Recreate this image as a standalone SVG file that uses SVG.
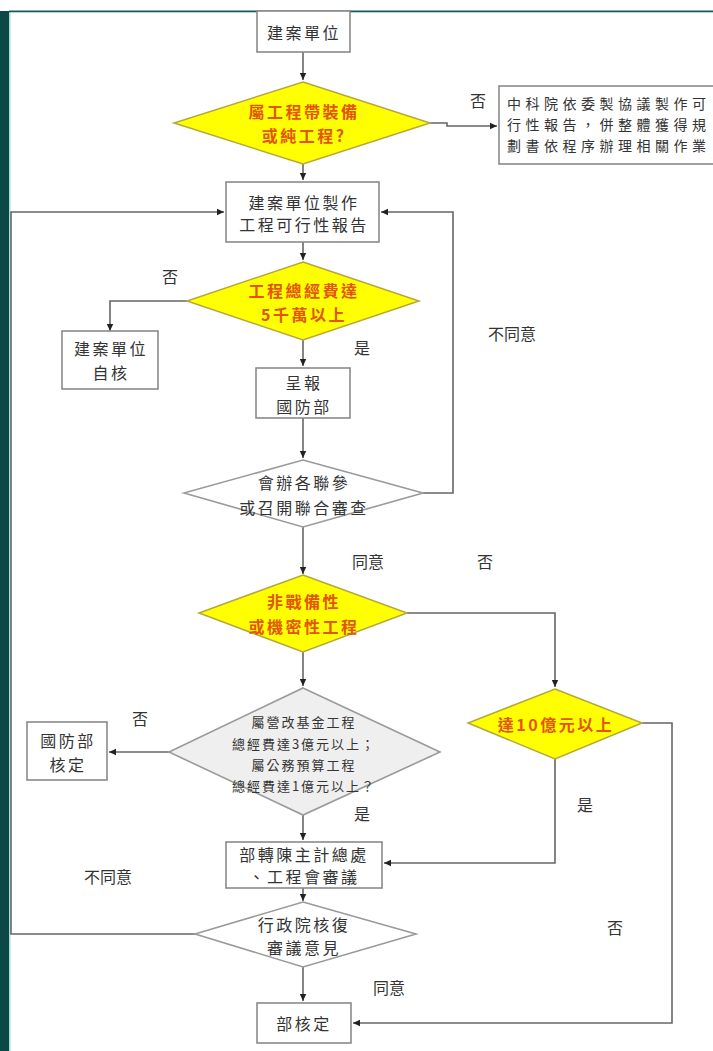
<svg xmlns="http://www.w3.org/2000/svg" width="713" height="1051" viewBox="0 0 713 1051">
<defs>
<marker id="ah" markerWidth="8" markerHeight="8" refX="7" refY="4" orient="auto" markerUnits="userSpaceOnUse">
<path d="M0,0.8 L7,4 L0,7.2 Z" fill="#222"/>
</marker>
<style>
.box{fill:#fff;stroke:#8a8a8a;stroke-width:1.6}
.yd{fill:#ffff00;stroke:#b5a83a;stroke-width:1.5}
.gd{fill:#fff;stroke:#9a9a9a;stroke-width:1.6}
.gd2{fill:#efefef;stroke:#9a9a9a;stroke-width:1.6}
.t{font-family:"Noto Sans CJK TC","Liberation Serif",serif;font-size:16px;fill:#333;letter-spacing:2.5px;text-anchor:middle;dominant-baseline:central}
.tb{font-family:"Noto Sans CJK TC","Liberation Serif",serif;font-size:14px;fill:#333;letter-spacing:4.5px;text-anchor:start;dominant-baseline:central}
.ty{font-family:"Noto Sans CJK TC","Liberation Serif",serif;font-size:16px;fill:#e4540c;font-weight:bold;letter-spacing:2.5px;text-anchor:middle;dominant-baseline:central}
.ts{font-family:"Noto Sans CJK TC","Liberation Serif",serif;font-size:13px;fill:#333;letter-spacing:2px;text-anchor:middle;dominant-baseline:central}
.lb{font-family:"Noto Sans CJK TC","Liberation Serif",serif;font-size:16px;fill:#333;text-anchor:middle;dominant-baseline:central}
.c{fill:none;stroke:#666;stroke-width:1.6}
</style>
</defs>
<rect x="0" y="0" width="713" height="1051" fill="#fff"/>
<rect x="0" y="11" width="9" height="1040" fill="#0b4846"/>
<rect x="9" y="11" width="1.5" height="1040" fill="#a8dcd8"/>
<rect x="9" y="10.5" width="704" height="1.8" fill="#1b5a57"/>

<g id="connectors">
<path class="c" d="M303,52 V80" marker-end="url(#ah)"/>
<path class="c" d="M430,123 H447 V126 H497" marker-end="url(#ah)"/>
<path class="c" d="M303,164 V180" marker-end="url(#ah)"/>
<path class="c" d="M303,242 V260" marker-end="url(#ah)"/>
<path class="c" d="M187,301 H110 V331" marker-end="url(#ah)"/>
<path class="c" d="M303,340 V366" marker-end="url(#ah)"/>
<path class="c" d="M303,418 V458" marker-end="url(#ah)"/>
<path class="c" d="M423,493 H453 V212 H381" marker-end="url(#ah)"/>
<path class="c" d="M303,527 V574" marker-end="url(#ah)"/>
<path class="c" d="M407,613 H555 V687" marker-end="url(#ah)"/>
<path class="c" d="M303,652 V686" marker-end="url(#ah)"/>
<path class="c" d="M169,752 H109" marker-end="url(#ah)"/>
<path class="c" d="M303,815 V840" marker-end="url(#ah)"/>
<path class="c" d="M555,759 V863 H384" marker-end="url(#ah)"/>
<path class="c" d="M642,723 H672 V1023 H353" marker-end="url(#ah)"/>
<path class="c" d="M303,888 V901" marker-end="url(#ah)"/>
<path class="c" d="M195,934 H11 V212 H224" marker-end="url(#ah)"/>
<path class="c" d="M303,967 V1001" marker-end="url(#ah)"/>
</g>

<g id="labels">
<text class="lb" x="478" y="100">否</text>
<text class="lb" x="170" y="276">否</text>
<text class="lb" x="362" y="347">是</text>
<text class="lb" x="512" y="333">不同意</text>
<text class="lb" x="368" y="561">同意</text>
<text class="lb" x="485" y="561">否</text>
<text class="lb" x="140" y="718">否</text>
<text class="lb" x="362" y="813">是</text>
<text class="lb" x="585" y="804">是</text>
<text class="lb" x="108" y="876">不同意</text>
<text class="lb" x="615" y="927">否</text>
<text class="lb" x="389" y="987">同意</text>
</g>

<g id="n1">
<rect class="box" x="257" y="11" width="93" height="41"/>
<text class="t" x="304" y="32">建案單位</text>
</g>
<g id="n2">
<polygon class="yd" points="303,82 430,123 303,164 174,123"/>
<text class="ty" x="304" y="111">屬工程帶裝備</text>
<text class="ty" x="304" y="135">或純工程?</text>
</g>
<g id="n3">
<rect class="box" x="499" y="86" width="230" height="78"/>
<text class="tb" x="507" y="103">中科院依委製協議製作可</text>
<text class="tb" x="507" y="124">行性報告，併整體獲得規</text>
<text class="tb" x="507" y="145">劃書依程序辦理相關作業</text>
</g>
<g id="n4">
<rect class="box" x="226" y="182" width="153" height="60"/>
<text class="t" x="304" y="202">建案單位製作</text>
<text class="t" x="304" y="224">工程可行性報告</text>
</g>
<g id="n5">
<polygon class="yd" points="303,262 419,301 303,340 187,301"/>
<text class="ty" x="304" y="290">工程總經費達</text>
<text class="ty" x="304" y="314">5千萬以上</text>
</g>
<g id="n6">
<rect class="box" x="62" y="331" width="96" height="58"/>
<text class="t" x="111" y="348">建案單位</text>
<text class="t" x="111" y="372">自核</text>
</g>
<g id="n7">
<rect class="box" x="256" y="368" width="94" height="50"/>
<text class="t" x="304" y="382">呈報</text>
<text class="t" x="304" y="406">國防部</text>
</g>
<g id="n8">
<polygon class="gd" points="303,460 423,493 303,527 184,493"/>
<text class="t" x="304" y="482">會辦各聯參</text>
<text class="t" x="304" y="507">或召開聯合審查</text>
</g>
<g id="n9">
<polygon class="yd" points="303,575 407,613 303,652 199,613"/>
<text class="ty" x="304" y="601">非戰備性</text>
<text class="ty" x="304" y="626">或機密性工程</text>
</g>
<g id="n10">
<polygon class="yd" points="555,689 642,723 555,759 468,723"/>
<text class="ty" x="556" y="724">達10億元以上</text>
</g>
<g id="n11">
<polygon class="gd2" points="303,688 440,752 303,815 169,752"/>
<text class="ts" x="304" y="721">屬營改基金工程</text>
<text class="ts" x="304" y="743">總經費達3億元以上；</text>
<text class="ts" x="304" y="764">屬公務預算工程</text>
<text class="ts" x="304" y="785">總經費達1億元以上？</text>
</g>
<g id="n12">
<rect class="box" x="27" y="722" width="80" height="58"/>
<text class="t" x="68" y="740">國防部</text>
<text class="t" x="68" y="764">核定</text>
</g>
<g id="n13">
<rect class="box" x="226" y="842" width="156" height="46"/>
<text class="t" x="304" y="854">部轉陳主計總處</text>
<text class="t" x="304" y="876">、工程會審議</text>
</g>
<g id="n14">
<polygon class="gd" points="303,902 416,934 303,967 195,934"/>
<text class="t" x="304" y="924">行政院核復</text>
<text class="t" x="304" y="947">審議意見</text>
</g>
<g id="n15">
<rect class="box" x="257" y="1003" width="94" height="40"/>
<text class="t" x="304" y="1023">部核定</text>
</g>
</svg>
